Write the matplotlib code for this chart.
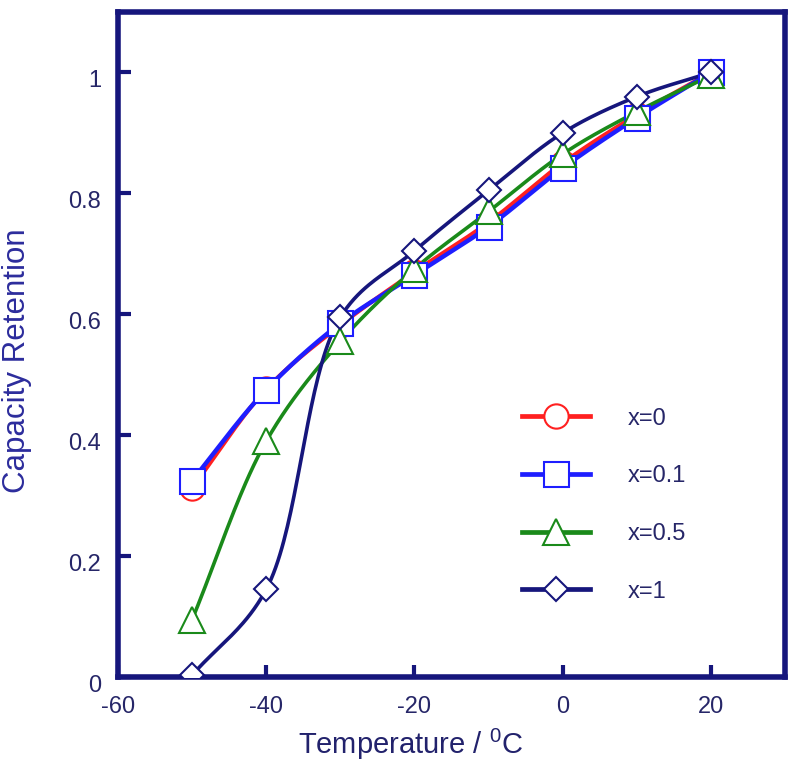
import numpy as np
import matplotlib
matplotlib.use('Agg')
import matplotlib.pyplot as plt
from matplotlib.transforms import ScaledTranslation

plt.rcParams['font.family'] = ['Liberation Sans', 'DejaVu Sans']
plt.rcParams['mathtext.default'] = 'regular'
plt.rcParams['axes.unicode_minus'] = False

temps = [-50, -40, -30, -20, -10, 0, 10, 20]
ret_x0 = [0.313, 0.476, 0.582, 0.670, 0.752, 0.850, 0.930, 1.000]
ret_x01 = [0.325, 0.475, 0.585, 0.665, 0.745, 0.842, 0.925, 1.000]
ret_x05 = [0.095, 0.390, 0.555, 0.675, 0.770, 0.865, 0.935, 0.995]
ret_x1 = [0.003, 0.145, 0.595, 0.705, 0.805, 0.900, 0.960, 1.000]
labels = ['x=0', 'x=0.1', 'x=0.5', 'x=1']

navy = '#16167c'
txt = '#262668'

W, H = 667/90.0, 606.0   # rough px per data unit, used for the curve fit


def smooth(xs, ys, n=40, alpha=0.5):
    # centripetal catmull-rom through the points (smoothed curve like the original)
    p = np.column_stack([np.array(xs)*W, np.array(ys)*H])
    p = np.vstack([2*p[0]-p[1], p, 2*p[-1]-p[-2]])
    out = []
    for i in range(1, len(p)-2):
        p0, p1, p2, p3 = p[i-1], p[i], p[i+1], p[i+2]
        t0 = 0.0
        t1 = t0 + np.linalg.norm(p1-p0)**alpha
        t2 = t1 + np.linalg.norm(p2-p1)**alpha
        t3 = t2 + np.linalg.norm(p3-p2)**alpha
        t = np.linspace(t1, t2, n)[:, None]
        a1 = (t1-t)/(t1-t0)*p0 + (t-t0)/(t1-t0)*p1
        a2 = (t2-t)/(t2-t1)*p1 + (t-t1)/(t2-t1)*p2
        a3 = (t3-t)/(t3-t2)*p2 + (t-t2)/(t3-t2)*p3
        b1 = (t2-t)/(t2-t0)*a1 + (t-t0)/(t2-t0)*a2
        b2 = (t3-t)/(t3-t1)*a2 + (t-t1)/(t3-t1)*a3
        out.append((t2-t)/(t2-t1)*b1 + (t-t1)/(t2-t1)*b2)
    out = np.vstack(out)
    return out[:, 0]/W, out[:, 1]/H


fig = plt.figure(figsize=(7.97, 7.74), dpi=100)
ax = fig.add_axes([118/797, 1-677/774, 667/797, 665/774])

series = [
    (ret_x0, '#ff2020', 'o', 17.5, 3.0),
    (ret_x01, '#1e1eff', 's', 18, 3.2),
    (ret_x05, '#1a8a1a', '^', 19, 2.6),
    (ret_x1, navy, 'D', 12.5, 2.6),
]
handles = []
for (ys, col, mk, ms, lw), lab in zip(series, labels):
    sx, sy = smooth(temps, ys)
    ax.plot(sx, sy, color=col, lw=lw, solid_capstyle='round', zorder=2)
    ax.plot(temps, ys, ls='none', marker=mk, ms=ms, mfc='white', mec=col, mew=1.5, zorder=3)
    h, = ax.plot([], [], color=col, lw=3.4, marker=mk, ms=ms, mfc='white', mec=col, mew=1.5, label=lab)
    handles.append(h)

ax.set_xlim(-60, 30)
ax.set_ylim(0, 1.1)
ax.set_xticks([-60, -40, -20, 0, 20])
ax.set_yticks([0, 0.2, 0.4, 0.6, 0.8, 1])
ax.set_yticklabels(['0', '0.2', '0.4', '0.6', '0.8', '1'])

for s in ax.spines.values():
    s.set_color(navy)
    s.set_linewidth(4)
ax.tick_params(direction='in', length=9, width=3, color=navy, labelcolor=txt, labelsize=17)
ax.tick_params(axis='x', pad=14)
ax.tick_params(axis='y', pad=12)
# y labels sit a little below their ticks in the original
off = ScaledTranslation(0, -6/100, fig.dpi_scale_trans)
for lb in ax.get_yticklabels():
    lb.set_transform(lb.get_transform() + off)

ax.set_xlabel('Temperature / $^{0}$C', fontsize=21, color='#22226c')
ax.xaxis.set_label_coords(0.439, -0.101)
ax.xaxis.label.set_va('center')
ax.set_ylabel('Capacity Retention', fontsize=22.5, color='#2c2c9c')
ax.yaxis.set_label_coords(-0.152, 0.475)
ax.yaxis.label.set_va('center')

leg = ax.legend(handles=handles, loc='upper left', bbox_to_anchor=(0.606, 0.405),
                frameon=False, fontsize=17, handlelength=2.88, handletextpad=1.6,
                labelspacing=1.51, borderpad=0, borderaxespad=0)
for t in leg.get_texts():
    t.set_color(txt)

fig.savefig('out.png', dpi=100)
